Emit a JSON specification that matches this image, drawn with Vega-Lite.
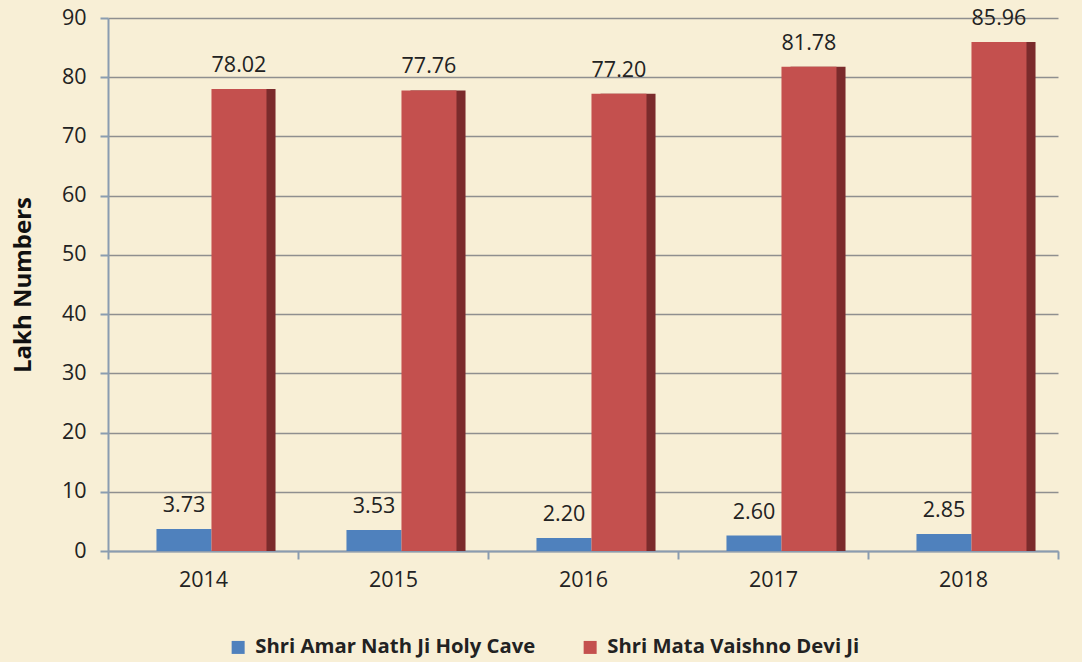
{
  "$schema": "https://vega.github.io/schema/vega-lite/v6.json",
  "width": 974,
  "height": 533,
  "autosize": "none",
  "padding": {"left": 108, "top": 18, "right": 0, "bottom": 111},
  "background": "#f8efd6",
  "config": {
    "view": {"stroke": null},
    "font": "Open Sans",
    "axis": {"labelFont": "Open Sans", "titleFont": "Open Sans"},
    "legend": {"labelFont": "Open Sans"}
  },
  "data": {
    "values": [
      {"year": "2014", "series": "Shri Amar Nath Ji Holy Cave", "value": 3.73},
      {"year": "2014", "series": "Shri Mata Vaishno Devi Ji", "value": 78.02},
      {"year": "2015", "series": "Shri Amar Nath Ji Holy Cave", "value": 3.53},
      {"year": "2015", "series": "Shri Mata Vaishno Devi Ji", "value": 77.76},
      {"year": "2016", "series": "Shri Amar Nath Ji Holy Cave", "value": 2.20},
      {"year": "2016", "series": "Shri Mata Vaishno Devi Ji", "value": 77.20},
      {"year": "2017", "series": "Shri Amar Nath Ji Holy Cave", "value": 2.60},
      {"year": "2017", "series": "Shri Mata Vaishno Devi Ji", "value": 81.78},
      {"year": "2018", "series": "Shri Amar Nath Ji Holy Cave", "value": 2.85},
      {"year": "2018", "series": "Shri Mata Vaishno Devi Ji", "value": 85.96}
    ]
  },
  "encoding": {
    "x": {
      "field": "year", "type": "nominal",
      "scale": {"paddingInner": 0, "paddingOuter": 0, "range": [0, 950]},
      "axis": {
        "title": null, "labelAngle": 0, "labelFontSize": 21.5, "labelColor": "#222222",
        "labelPadding": 10, "tickSize": 8, "tickBand": "extent",
        "domainColor": "#8a9cb0", "domainWidth": 2, "tickColor": "#8a9cb0", "tickWidth": 2
      }
    },
    "y": {
      "field": "value", "type": "quantitative",
      "scale": {"domain": [0, 90], "nice": false},
      "axis": {
        "title": "Lakh Numbers", "titleFontSize": 24, "titleFontWeight": "bold", "titleColor": "#111111",
        "titlePadding": 26,
        "values": [0, 10, 20, 30, 40, 50, 60, 70, 80, 90],
        "labelFontSize": 21.5, "labelColor": "#222222", "labelPadding": 14, "tickSize": 8,
        "domainColor": "#8a9cb0", "domainWidth": 2, "tickColor": "#8a9cb0", "tickWidth": 2,
        "gridColor": "#8f8f8f", "gridWidth": 1.5
      }
    }
  },
  "layer": [
    {
      "transform": [{"filter": "datum.series === 'Shri Mata Vaishno Devi Ji'"}],
      "mark": {"type": "bar", "color": "#7b2b2c"},
      "encoding": {
        "xOffset": {
          "field": "series", "type": "nominal",
          "scale": {"domain": ["Shri Amar Nath Ji Holy Cave", "Shri Mata Vaishno Devi Ji"], "paddingInner": 0, "paddingOuter": 0.727, "align": 0.719}
        }
      }
    },
    {
      "encoding": {
        "xOffset": {
          "field": "series", "type": "nominal",
          "scale": {"domain": ["Shri Amar Nath Ji Holy Cave", "Shri Mata Vaishno Devi Ji"], "paddingInner": 0, "paddingOuter": 0.727, "align": 0.606}
        }
      },
      "layer": [
        {
          "mark": {"type": "bar"},
          "encoding": {
            "color": {
              "field": "series", "type": "nominal",
              "scale": {"domain": ["Shri Amar Nath Ji Holy Cave", "Shri Mata Vaishno Devi Ji"], "range": ["#4f81bd", "#c4504e"]},
              "legend": {
                "title": null, "orient": "none", "direction": "horizontal",
                "legendX": 120, "legendY": 619,
                "symbolType": "square", "symbolSize": 169, "symbolStrokeWidth": 0,
                "labelFontSize": 20.3, "labelFontWeight": "bold", "labelColor": "#222222",
                "labelLimit": 0, "columnPadding": 44, "labelOffset": 7
              }
            }
          }
        },
        {
          "mark": {"type": "text", "fontSize": 21.5, "color": "#222222", "dy": -17, "baseline": "alphabetic"},
          "encoding": {
            "text": {"field": "value", "type": "quantitative", "format": ".2f"}
          }
        }
      ]
    }
  ],
  "resolve": {"scale": {"xOffset": "independent"}}
}
